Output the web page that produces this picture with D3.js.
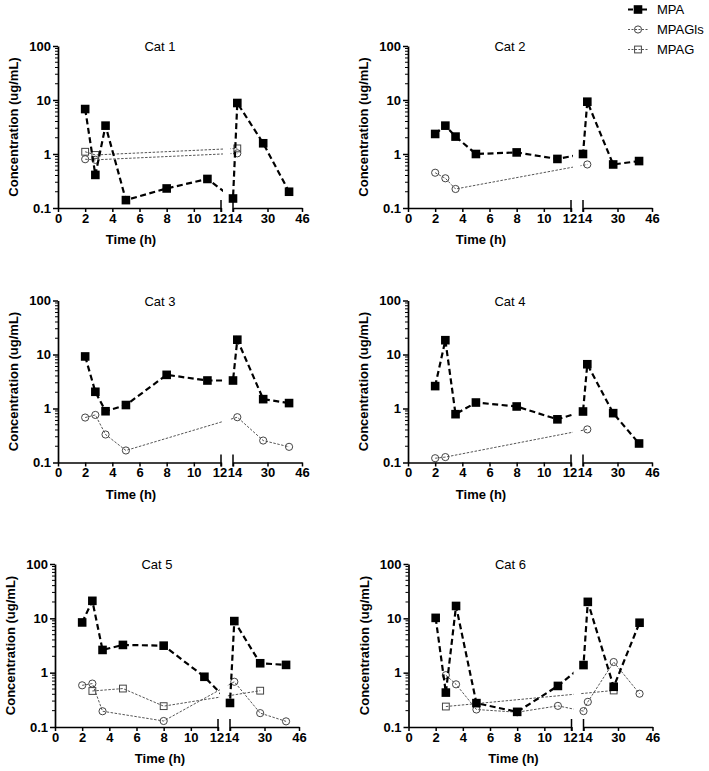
<!DOCTYPE html>
<html><head><meta charset="utf-8">
<script src="https://cdn.jsdelivr.net/npm/d3@7"></script>
<style>body{margin:0;background:#fff}</style>
</head><body>
<script>
// ---- data ----
const times = [2, 2.75, 3.5, 5, 8, 11, 14, 16, 28, 40];
const catNames = ["Cat 1", "Cat 2", "Cat 3", "Cat 4", "Cat 5", "Cat 6"];
const seriesNames = ["MPA", "MPAGls", "MPAG"];
const mpa1 = [6.8, 0.41, 3.35, 0.14, 0.23, 0.345, 0.15, 8.8, 1.58, 0.2];
const gls1 = [0.8, 0.78, null, null, null, null, null, 1.03, null, null];
const mpag1 = [1.1, 0.96, null, null, null, null, null, 1.27, null, null];
const mpa2 = [2.35, 3.35, 2.1, 1.0, 1.07, 0.81, 1.0, 9.3, 0.64, 0.74];
const gls2 = [0.45, 0.355, 0.225, null, null, null, null, 0.64, null, null];
const mpag2 = [null, null, null, null, null, null, null, null, null, null];
const mpa3 = [9.2, 2.04, 0.89, 1.16, 4.2, 3.3, 3.3, 18.8, 1.49, 1.26];
const gls3 = [0.68, 0.76, 0.33, 0.167, null, null, null, 0.69, 0.255, 0.195];
const mpag3 = [null, null, null, null, null, null, null, null, null, null];
const mpa4 = [2.6, 18.4, 0.785, 1.29, 1.09, 0.63, 0.88, 6.6, 0.82, 0.225];
const gls4 = [0.12, 0.126, null, null, null, null, null, 0.41, null, null];
const mpag4 = [null, null, null, null, null, null, null, null, null, null];
const mpa5 = [8.4, 21, 2.62, 3.24, 3.14, 0.84, 0.277, 8.9, 1.49, 1.39];
const gls5 = [0.585, 0.63, 0.195, null, 0.129, null, null, 0.68, 0.18, 0.127];
const mpag5 = [null, 0.46, null, 0.51, 0.242, null, null, null, 0.466, null];
const mpa6 = [10.2, 0.43, 16.9, 0.275, 0.19, 0.57, 1.38, 20.1, 0.55, 8.3];
const gls6 = [null, 0.9, 0.61, 0.21, 0.187, 0.245, 0.196, 0.29, 1.57, 0.41];
const mpag6 = [null, 0.238, null, null, null, null, null, null, 0.47, null];
const xTicksLeft = [0, 2, 4, 6, 8, 10, 12];
const xTicksRight = [14, 30, 46];
const yTicks = [0.1, 1, 10, 100];
const yTickLabels = ["0.1", "1", "10", "100"];

const panelData = [
  [mpa1, gls1, mpag1], [mpa2, gls2, mpag2], [mpa3, gls3, mpag3],
  [mpa4, gls4, mpag4], [mpa5, gls5, mpag5], [mpa6, gls6, mpag6]
];

// ---- layout ----
const W = 709, H = 771;
const layout = [
  {x0: 58, top: 46, h: 162, tx: 73},
  {x0: 408, top: 46, h: 162, tx: 73},
  {x0: 58, top: 300.5, h: 162, tx: 73},
  {x0: 408, top: 300.5, h: 162, tx: 73},
  {x0: 55, top: 564, h: 163, tx: 105},
  {x0: 408.5, top: 564, h: 163, tx: 105}
];
const FONT = "'Liberation Sans', Arial, sans-serif";
const svg = d3.select("body").append("svg").attr("width", W).attr("height", H)
  .style("font-family", FONT);
const defs = svg.append("defs");

const styles = [
  {stroke: "#000", width: 2.2, dash: "6,3.5", marker: "fsq"},
  {stroke: "#555", width: 1, dash: "2.5,1.5", marker: "circ"},
  {stroke: "#555", width: 1, dash: "2.5,1.5", marker: "osq"}
];

function drawMarker(g, type, cx, cy) {
  if (type === "fsq") {
    g.append("rect").attr("x", cx - 4.3).attr("y", cy - 4.3).attr("width", 8.6).attr("height", 8.6)
      .attr("fill", "#000");
  } else if (type === "circ") {
    g.append("circle").attr("cx", cx).attr("cy", cy).attr("r", 3.6)
      .attr("fill", "none").attr("stroke", "#444").attr("stroke-width", 1);
  } else {
    g.append("rect").attr("x", cx - 3.4).attr("y", cy - 3.4).attr("width", 6.8).attr("height", 6.8)
      .attr("fill", "none").attr("stroke", "#444").attr("stroke-width", 1);
  }
}

layout.forEach((L, i) => {
  const g = svg.append("g");
  const bottom = L.top + L.h;
  const xl = d3.scaleLinear().domain([0, 12]).range([L.x0, L.x0 + 163]);
  const xr = d3.scaleLinear().domain([14, 46]).range([L.x0 + 175, L.x0 + 244]);
  const xp = t => t <= 12 ? xl(t) : xr(t);
  const y = d3.scaleLog().domain([0.1, 100]).range([bottom, L.top]);

  // clip for broken axis
  const cid = "clip" + i;
  const cp = defs.append("clipPath").attr("id", cid);
  cp.append("rect").attr("x", L.x0 - 10).attr("y", L.top - 20).attr("width", 175).attr("height", L.h + 30);
  cp.append("rect").attr("x", L.x0 + 172.5).attr("y", L.top - 20).attr("width", 90).attr("height", L.h + 30);

  // y axis
  const ya = g.append("g").attr("transform", `translate(${L.x0},0)`)
    .call(d3.axisLeft(y).tickValues(yTicks).tickFormat((d, j) => yTickLabels[j]).tickSize(5).tickSizeOuter(0));
  const minors = [];
  [0.1, 1, 10].forEach(b => { for (let k = 2; k <= 9; k++) minors.push(b * k); });
  minors.forEach(v => g.append("line").attr("x1", L.x0 - 3).attr("x2", L.x0)
    .attr("y1", y(v)).attr("y2", y(v)).attr("stroke", "#000").attr("stroke-width", 1));

  // x axes
  const xa1 = g.append("g").attr("transform", `translate(0,${bottom})`)
    .call(d3.axisBottom(xl).tickValues(xTicksLeft).tickFormat(d3.format("d")).tickSize(4).tickSizeOuter(0));
  const xa2 = g.append("g").attr("transform", `translate(0,${bottom})`)
    .call(d3.axisBottom(xr).tickValues(xTicksRight).tickFormat(d3.format("d")).tickSize(4).tickSizeOuter(0));
  [ya, xa1, xa2].forEach(a => {
    a.selectAll("path.domain").attr("stroke", "#000").attr("stroke-width", 1.7);
    a.selectAll(".tick line").attr("stroke", "#000").attr("stroke-width", 1.5);
    a.selectAll("text").attr("font-family", FONT).attr("font-weight", "bold")
      .attr("font-size", 13).attr("fill", "#000");
  });
  ya.selectAll("text").attr("x", -7);
  xa1.selectAll("text").attr("y", 5.5).attr("dx", d => d === 12 ? -1.5 : 0);
  xa2.selectAll("text").attr("y", 5.5).attr("dx", d => d === 14 ? 1.5 : 0);
  // break marks
  [xl(12), xr(14)].forEach(bx => g.append("line").attr("x1", bx).attr("x2", bx)
    .attr("y1", bottom - 8).attr("y2", bottom + 4).attr("stroke", "#000").attr("stroke-width", 1.5));

  // title and labels
  g.append("text").attr("x", L.x0 + 102).attr("y", L.top + 5).attr("text-anchor", "middle")
    .attr("font-size", 13).text(catNames[i]);
  g.append("text").attr("transform", `translate(${L.x0 - 40},${L.top + L.h / 2}) rotate(-90)`)
    .attr("text-anchor", "middle").attr("font-weight", "bold").attr("font-size", 13)
    .text("Concentration (ug/mL)");
  g.append("text").attr("x", L.x0 + L.tx).attr("y", bottom + 36).attr("text-anchor", "middle")
    .attr("font-weight", "bold").attr("font-size", 13).text("Time (h)");

  // series (draw MPAG, MPAGls, then MPA on top)
  [2, 1, 0].forEach(s => {
    const vals = panelData[i][s];
    const pts = times.map((t, k) => ({t, v: vals[k]})).filter(d => d.v != null);
    if (!pts.length) return;
    const st = styles[s];
    g.append("path").attr("clip-path", `url(#${cid})`)
      .attr("d", d3.line().x(d => xp(d.t)).y(d => y(d.v))(pts))
      .attr("fill", "none").attr("stroke", st.stroke).attr("stroke-width", st.width)
      .attr("stroke-dasharray", st.dash);
    const mg = g.append("g");
    pts.forEach(d => drawMarker(mg, st.marker, xp(d.t), y(d.v)));
  });
});

// legend
const lg = svg.append("g");
seriesNames.forEach((name, s) => {
  const ly = 9.5 + s * 20;
  const st = styles[s];
  lg.append("line").attr("x1", 628).attr("x2", 648).attr("y1", ly).attr("y2", ly)
    .attr("stroke", st.stroke).attr("stroke-width", st.width)
    .attr("stroke-dasharray", s === 0 ? "5,2" : "2,1.5");
  drawMarker(lg, st.marker, 638, ly);
  lg.append("text").attr("x", 657).attr("y", ly + 4.5).attr("font-size", 13).text(name);
});
</script>
</body></html>
